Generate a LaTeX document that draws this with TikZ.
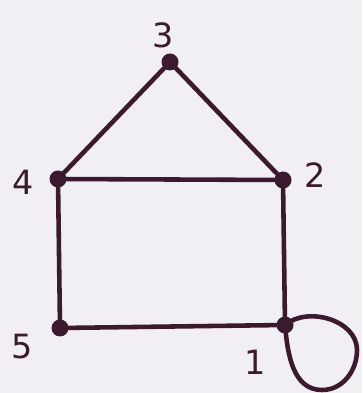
\documentclass[tikz,border=0pt]{standalone}
\usepackage{fontspec}
\setmainfont{DejaVu Sans}
\definecolor{ink}{HTML}{3A1A2C}
\definecolor{paper}{HTML}{F1EFF3}
\tikzset{
  vertex/.style={shape=circle, fill=ink, inner sep=0pt, minimum size=0.34cm},
  tag/.style={anchor=center, text=ink, font=\fontsize{19}{22}\selectfont},
  wire/.style={draw=ink, line width=2.6pt, line cap=round}
}
\begin{document}
\begin{tikzpicture}
	% Paper:
	\fill[paper] (0,0) rectangle (7.24,7.86);
	\useasboundingbox (0,0) rectangle (7.24,7.86);
	% Vertices and labels:
	\node[vertex] (n1) at (5.70, 1.36){};
	\node[vertex] (n2) at (5.66, 4.26){};
	\node[vertex] (n3) at (3.40, 6.62){};
	\node[vertex] (n4) at (1.16, 4.28){};
	\node[vertex] (n5) at (1.20, 1.30){};
	\node[tag] (l1) at (5.10, 0.62){1};
	\node[tag] (l2) at (6.30, 4.36){2};
	\node[tag] (l3) at (3.26, 7.16){3};
	\node[tag] (l4) at (0.46, 4.22){4};
	\node[tag] (l5) at (0.44, 0.92){5};
	\coordinate (loopR) at (7.14, 0.86);
	\coordinate (loopB) at (6.44, 0.06);
	% Edges:
	\draw[wire] (n3) -- (n4);
	\draw[wire] (n3) -- (n2);
	\draw[wire] (n4) -- (n2);
	\draw[wire] (n4) -- (n5);
	\draw[wire] (n2) -- (n1);
	\draw[wire] (n5) -- (n1);
	\draw[wire] (n1.center) to[out=40, in=90] (loopR) to[out=-90, in=0] (loopB) to[out=180, in=-85] (n1.center);
\end{tikzpicture}
\end{document}
